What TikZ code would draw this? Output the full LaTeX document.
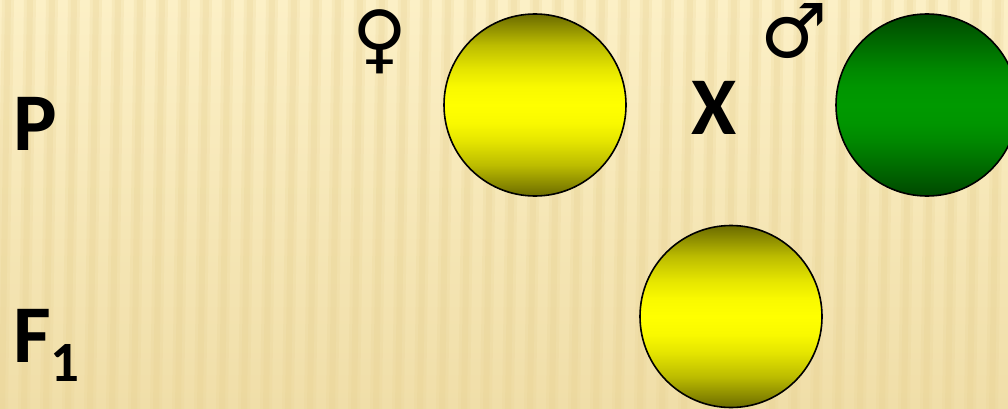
\documentclass[tikz,border=0pt]{standalone}
\usepackage{fontspec}
\setmainfont{Carlito}
\newfontfamily\symfont{DejaVu Sans}
\definecolor{yolive}{HTML}{6B6B00}
\definecolor{gdark}{HTML}{004800}
\definecolor{gmid}{HTML}{009900}
\definecolor{bgA}{HTML}{FCF0C6}
\definecolor{bgB}{HTML}{F0DEA8}
\definecolor{stripe}{HTML}{E8D293}
\pgfdeclareverticalshading{yshade}{100bp}{color(0bp)=(yolive); color(25bp)=(yolive);
  color(33.5bp)=(yolive!45!yellow); color(40bp)=(yolive!18!yellow); color(45bp)=(yolive!4!yellow);
  color(50bp)=(yellow); color(55bp)=(yolive!4!yellow); color(60bp)=(yolive!18!yellow);
  color(66.5bp)=(yolive!45!yellow); color(75bp)=(yolive); color(100bp)=(yolive)}
\pgfdeclareverticalshading{gshade}{100bp}{color(0bp)=(gdark); color(25bp)=(gdark);
  color(33.5bp)=(gdark!55!gmid); color(40bp)=(gdark!22!gmid); color(45bp)=(gdark!5!gmid);
  color(50bp)=(gmid); color(55bp)=(gdark!5!gmid); color(60bp)=(gdark!22!gmid);
  color(66.5bp)=(gdark!55!gmid); color(75bp)=(gdark); color(100bp)=(gdark)}
\begin{document}
\begin{tikzpicture}[x=1pt,y=-1pt,
  ball/.style={circle,draw=black,line width=1.6pt,minimum size=182pt,inner sep=0pt},
  yball/.style={ball,shading=yshade},
  gball/.style={ball,shading=gshade},
  lbl/.style={inner sep=0pt,anchor=base west,font=\bfseries\fontsize{82}{82}\selectfont},
  sym/.style={inner sep=0pt,font=\symfont\bfseries\fontsize{75}{75}\selectfont}]
\useasboundingbox (0,0) rectangle (1008,409);
\fill[top color=bgA,bottom color=bgB] (0,0) rectangle (1008,409);
\foreach \i in {0,...,46}{
  \fill[stripe,opacity=0.22] ({\i*22+2},0) -- ({\i*22+14},0) -- ({\i*22+8},409) -- ({\i*22-4},409) -- cycle;
  \fill[stripe,opacity=0.25] ({\i*22+5},0) -- ({\i*22+11},0) -- ({\i*22+5},409) -- ({\i*22-1},409) -- cycle;
}
\node[lbl] (P) at (13,150) {P};
\node[lbl] (F) at (13,362) {F\raisebox{-19pt}{\fontsize{57}{57}\selectfont 1}};
\node[lbl] (X) at (691,135) {X};
\node[sym] (fem) at (380,42) {♀};
\node[sym] (mal) at (794,31) {♂};
\node[yball] (y1) at (535,105) {};
\node[gball] (g1) at (927,105) {};
\node[yball] (y2) at (731,316.5) {};
\end{tikzpicture}
\end{document}
